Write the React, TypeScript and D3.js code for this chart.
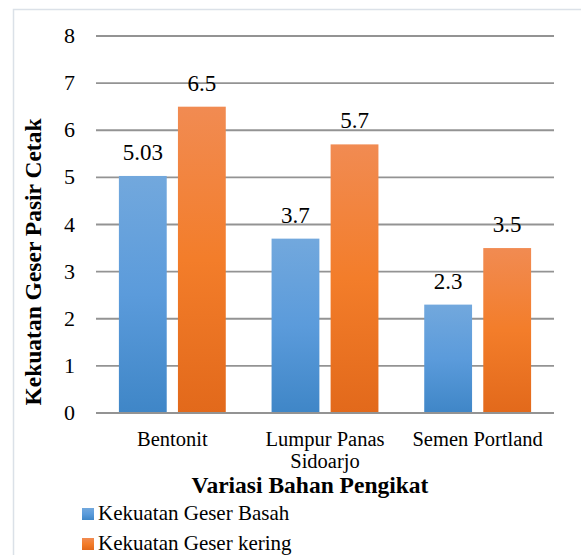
import React from 'react';
import * as d3 from 'd3';

// data
const categories = ['Bentonit', 'Lumpur Panas Sidoarjo', 'Semen Portland'];
const seriesNames = ['Kekuatan Geser Basah', 'Kekuatan Geser kering'];
const basah = [5.03, 3.7, 2.3];
const kering = [6.5, 5.7, 3.5];
const yTicks = [0, 1, 2, 3, 4, 5, 6, 7, 8];

const W = 581;
const H = 555;
const font = '"Times New Roman", "Liberation Serif", serif';

export default function App() {
  const plotLeft = 96;
  const plotRight = 554;
  const plotTop = 36;
  const plotBottom = 413;

  const y = d3.scaleLinear().domain([0, 8]).range([plotBottom, plotTop]);
  const x0 = d3.scaleBand<string>()
    .domain(categories)
    .range([plotLeft, plotRight])
    .paddingInner(0.3)
    .paddingOuter(0.15);
  const x1 = d3.scaleBand<string>()
    .domain(seriesNames)
    .range([0, x0.bandwidth()])
    .paddingInner(0.19);

  const values = [basah, kering];
  const fills = ['url(#gBlue)', 'url(#gOrange)'];

  // category labels wrap like Excel does
  const catLines: Record<string, string[]> = {
    'Lumpur Panas Sidoarjo': ['Lumpur Panas', 'Sidoarjo'],
  };

  return (
    <svg width={W} height={H} style={{position: 'absolute', left: 0, top: 0, background: '#fff'}}>
      <defs>
        <linearGradient id="gBlue" x1="0" y1="0" x2="0" y2="1">
          <stop offset="0%" stopColor="#72a8dd" />
          <stop offset="50%" stopColor="#5b9bdb" />
          <stop offset="100%" stopColor="#3f86c7" />
        </linearGradient>
        <linearGradient id="gOrange" x1="0" y1="0" x2="0" y2="1">
          <stop offset="0%" stopColor="#f18b52" />
          <stop offset="50%" stopColor="#f37d2a" />
          <stop offset="100%" stopColor="#e2691b" />
        </linearGradient>
      </defs>

      <rect x={13.5} y={9.5} width={W} height={H} fill="#fff" stroke="#dbe1e8" strokeWidth={1.5} />

      {/* gridlines */}
      {yTicks.map(t => (
        <g key={t}>
          <line x1={plotLeft} x2={plotRight} y1={y(t)} y2={y(t)} stroke="#939393" strokeWidth={1.8} />
          <text x={75} y={y(t) + 7} textAnchor="end" fontFamily={font} fontSize={22} fill="#000">{t}</text>
        </g>
      ))}

      {/* bars */}
      {categories.map((c, ci) => (
        <g key={c} transform={`translate(${x0(c)},0)`}>
          {seriesNames.map((s, si) => {
            const v = values[si][ci];
            return (
              <g key={s}>
                <rect x={x1(s)} y={y(v)} width={x1.bandwidth()} height={plotBottom - y(v)} fill={fills[si]} />
                <text x={(x1(s) as number) + x1.bandwidth() / 2} y={y(v) - 16} textAnchor="middle"
                  fontFamily={font} fontSize={23} fill="#000">{v}</text>
              </g>
            );
          })}
        </g>
      ))}
      <line x1={plotLeft} x2={plotRight} y1={plotBottom} y2={plotBottom} stroke="#939393" strokeWidth={1.8} />

      {/* category labels */}
      {categories.map(c => {
        const lines = catLines[c] || [c];
        const cx = (x0(c) as number) + x0.bandwidth() / 2;
        return lines.map((l, i) => (
          <text key={c + i} x={cx} y={446 + i * 22} textAnchor="middle" fontFamily={font} fontSize={20.5} fill="#000">
            {l}
          </text>
        ));
      })}

      {/* axis titles */}
      <text x={310} y={493} textAnchor="middle" fontFamily={font} fontSize={23.5} fontWeight="bold" fill="#000">
        Variasi Bahan Pengikat
      </text>
      <text transform="translate(41,262) rotate(-90)" textAnchor="middle" fontFamily={font} fontSize={23.5}
        fontWeight="bold" fill="#000">
        Kekuatan Geser Pasir Cetak
      </text>

      {/* legend */}
      {seriesNames.map((s, i) => (
        <g key={s} transform={`translate(82,${508 + i * 30})`}>
          <rect x={0} y={0} width={12} height={12} fill={fills[i]} />
          <text x={16} y={12} fontFamily={font} fontSize={21} fill="#000">{s}</text>
        </g>
      ))}
    </svg>
  );
}
